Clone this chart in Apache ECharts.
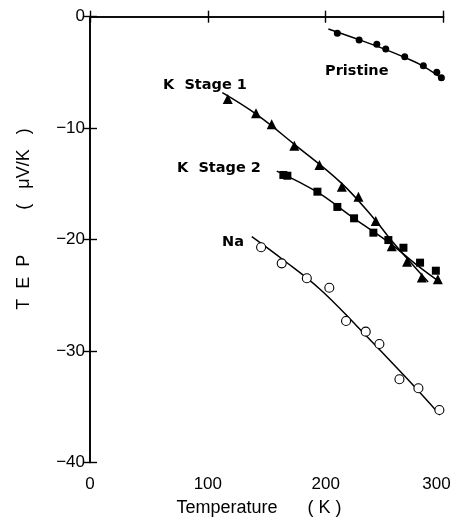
<!DOCTYPE html>
<html>
<head>
<meta charset="utf-8">
<script src="https://cdn.jsdelivr.net/npm/echarts@6/dist/echarts.min.js"></script>
<style>
  html, body { margin: 0; padding: 0; background: #fff; }
  #chart { width: 454px; height: 522px; }
</style>
</head>
<body>
<div id="chart"></div>
<script>
// measured points [T (K), TEP (uV/K)]
const pristinePts = [[209.9, -1.49], [228.4, -2.09], [243.4, -2.48], [251.0, -2.90], [267.1, -3.59], [282.9, -4.40], [294.3, -4.99], [298.2, -5.47]];
const stage1Pts = [[116.9, -7.38], [140.9, -8.67], [154.2, -9.65], [173.4, -11.57], [194.7, -13.31], [213.7, -15.25], [227.8, -16.15], [242.5, -18.33], [256.1, -20.60], [269.1, -21.98], [281.6, -23.40], [295.2, -23.56]];
const stage2Pts = [[164.1, -14.20], [167.5, -14.27], [193.0, -15.70], [209.9, -17.07], [224.1, -18.09], [240.5, -19.38], [253.2, -20.04], [266.0, -20.73], [280.1, -22.07], [293.5, -22.79]];
const naPts = [[145.2, -20.69], [162.7, -22.13], [184.0, -23.47], [203.1, -24.32], [217.3, -27.30], [234.0, -28.26], [245.6, -29.37], [262.6, -32.53], [278.7, -33.34], [296.5, -35.29]];

// hand-drawn guide curves
const pristineCurve = [[202.3, -1.10], [228, -2.05], [251, -2.95], [267, -3.65], [283, -4.45], [300.5, -5.68]];
const stage1Curve = [[112.3, -6.82], [141, -8.75], [174, -11.5], [214, -15.0], [242.5, -18.3], [256, -20.1], [287, -23.8]];
const stage2Curve = [[158.5, -13.85], [193, -15.75], [224, -18.1], [253, -20.2], [280, -22.5], [295.4, -23.7]];
const naCurve = [[137.3, -19.74], [164.1, -21.83], [195.2, -24.45], [226.4, -27.75], [268.8, -32.45], [297.1, -35.74]];

const seriesLabels = [[199.5, -4.87, "Pristine"], [62.0, -6.13, "K  Stage 1"], [73.9, -13.57, "K  Stage 2"], [112.1, -20.22, "Na"]];

const xTicks = [0, 100, 200, 300];
const yTicks = [0, -10, -20, -30, -40];

const chart = echarts.init(document.getElementById("chart"));
const axisFont = "Liberation Sans";

function curve(data) {
  return {
    type: "line", data: data, smooth: 0.4, showSymbol: false, symbol: "none",
    lineStyle: { color: "#000", width: 1.5 }, silent: true, z: 2,
  };
}

function dots(data, symbol, size, style) {
  return {
    type: "scatter", data: data, symbol: symbol, symbolSize: size,
    itemStyle: Object.assign({ color: "#000", opacity: 1 }, style || {}), z: 3,
  };
}

chart.setOption({
  animation: false,
  grid: { left: 90, right: 10.5, top: 16.7, bottom: 59.5 },
  xAxis: [
    {
      type: "value", min: xTicks[0], max: xTicks[xTicks.length - 1], interval: 100,
      splitLine: { show: false },
      axisLine: { lineStyle: { color: "#000", width: 1.6 } },
      axisTick: { inside: true, length: 6, lineStyle: { color: "#000", width: 1.4 } },
      axisLabel: {
        margin: 13, color: "#000", fontFamily: axisFont, fontSize: 17,
        formatter: (v) => (v === 300 ? "{r|300}" : String(v)),
        rich: { r: { padding: [0, 14, 0, 0], fontFamily: axisFont, fontSize: 17, color: "#000" } },
      },
    },
    {
      type: "value", position: "top", min: xTicks[0], max: xTicks[xTicks.length - 1], interval: 100,
      splitLine: { show: false },
      axisLine: { lineStyle: { color: "#000", width: 1.6 } },
      axisTick: { inside: true, length: 6, lineStyle: { color: "#000", width: 1.4 } },
      axisLabel: { show: false },
    },
  ],
  yAxis: [
    {
      type: "value", min: yTicks[yTicks.length - 1], max: yTicks[0], interval: 10,
      splitLine: { show: false },
      axisLine: { lineStyle: { color: "#000", width: 1.6 } },
      axisTick: { inside: true, length: 7, lineStyle: { color: "#000", width: 1.4 } },
      axisLabel: {
        margin: 5, color: "#000", fontFamily: axisFont, fontSize: 17,
        formatter: (v) => String(v).replace("-", "\u2212"),
      },
    },
    {
      type: "value", position: "right", min: yTicks[yTicks.length - 1], max: yTicks[0], interval: 10,
      splitLine: { show: false },
      axisLine: { lineStyle: { color: "#000", width: 1.6 } },
      axisTick: { inside: true, length: 7, lineStyle: { color: "#000", width: 1.4 } },
      axisLabel: { show: false },
    },
  ],
  graphic: [
    {
      type: "text", x: 259, y: 508,
      style: { text: "Temperature      ( K )", fill: "#000", font: "18px Liberation Sans", textAlign: "center", textVerticalAlign: "middle" },
    },
    {
      type: "text", x: 24, y: 219, rotation: Math.PI / 2,
      style: { text: "T  E  P         (   \u03bcV/K   )", fill: "#000", font: "18px Liberation Sans", textAlign: "center", textVerticalAlign: "middle" },
    },
  ],
  series: [
    curve(pristineCurve),
    curve(stage1Curve),
    curve(stage2Curve),
    curve(naCurve),
    dots(pristinePts, "circle", 7),
    dots(stage1Pts, "triangle", 10),
    dots(stage2Pts, "rect", 8),
    dots(naPts, "circle", 9, { color: "#fff", borderColor: "#000", borderWidth: 1.1 }),
    {
      type: "scatter", data: seriesLabels, symbolSize: 0, silent: true, z: 4,
      itemStyle: { opacity: 1 },
      label: {
        show: true, position: "right", distance: 0, color: "#000", opacity: 1,
        fontFamily: "DejaVu Sans", fontWeight: "bold", fontSize: 14.5,
        formatter: (p) => p.data[2],
      },
    },
  ],
});
</script>
</body>
</html>
